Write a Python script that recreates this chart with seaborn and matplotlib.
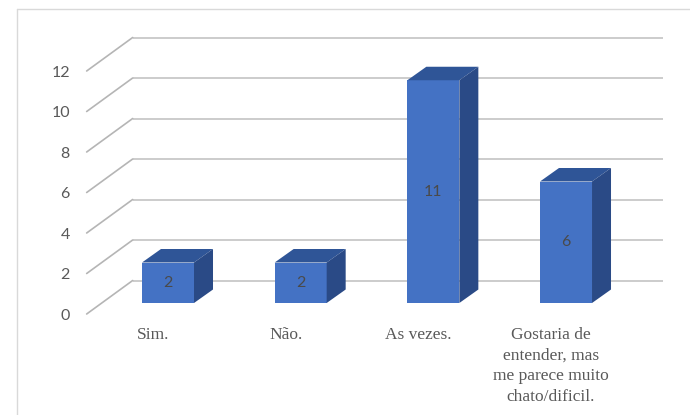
import matplotlib
matplotlib.use("Agg")
import matplotlib.pyplot as plt
from matplotlib.lines import Line2D
import seaborn as sns
import pandas as pd

categories = ["Sim.", "Não.", "As vezes.",
              "Gostaria de\nentender, mas\nme parece muito\nchato/dificil."]
values = [2, 2, 11, 6]
y_ticks = [0, 2, 4, 6, 8, 10, 12]

FRONT = "#4472C4"
TOP = "#2F5597"
SIDE = "#2A4A86"
GRID = "#cccccc"
TXT = "#595959"

sns.set_theme(style="white")
plt.rcParams['font.family'] = ['Lato', 'DejaVu Sans']

fig = plt.figure(figsize=(6.9, 4.15), dpi=100)
ax = fig.add_axes([0, 0, 1, 1])

df = pd.DataFrame({"cat": categories, "val": values})
sns.barplot(data=df, x="cat", y="val", color=FRONT, saturation=1,
            width=0.392, ax=ax, zorder=3, edgecolor="none")

# px -> data scale
PX_X = 132.67
PX_Y = 20.25
ax.set_xlim(-168 / PX_X, (690 - 168) / PX_X)
ax.set_ylim((303 - 415) / PX_Y, 303 / PX_Y)
ax.axis("off")

# depth offsets (data units)
fx, fy = -15 / PX_X, -11 / PX_Y      # front edge of floor
bx, by = 31 / PX_X, 22.5 / PX_Y      # back wall
dx, dy = 19 / PX_X, 13.5 / PX_Y      # bar depth

# back wall gridlines and floor/side diagonals
for v in y_ticks:
    ax.plot([-0.5 + bx, 3.5 + bx], [v + by, v + by], color=GRID, lw=1.4,
            zorder=1, solid_capstyle="butt")
    ax.plot([-0.5 + fx, -0.5 + bx], [v + fy, v + by], color="#b5b5b5", lw=1.2,
            zorder=1)
    ax.text(-0.739, v + fy - 1.5 / PX_Y, str(v), ha="right", va="center",
            fontsize=11.5, color=TXT)

# 3D faces for bars
for p, v in zip(ax.patches, values):
    x0, w, h = p.get_x(), p.get_width(), p.get_height()
    ax.fill([x0, x0 + w, x0 + w + dx, x0 + dx], [h, h, h + dy, h + dy],
            color=TOP, zorder=4, lw=0)
    ax.fill([x0 + w, x0 + w, x0 + w + dx, x0 + w + dx], [0, h, h + dy, dy],
            color=SIDE, zorder=4, lw=0)
    ax.text(x0 + w / 2, h / 2, str(v), ha="center", va="center",
            fontsize=11.5, color="#4a4a4a", zorder=5)

# category labels
for i, c in enumerate(categories):
    ax.text(i + fx, (303 - 327) / PX_Y, c, ha="center", va="top",
            fontsize=12.5, color=TXT, family=["Liberation Serif"],
            linespacing=1.38)

# chart border
fig.add_artist(Line2D([17 / 690, 1], [1 - 9.5 / 415, 1 - 9.5 / 415],
                      transform=fig.transFigure, color="#d9d9d9", lw=1))
fig.add_artist(Line2D([17 / 690, 17 / 690], [0, 1 - 9.5 / 415],
                      transform=fig.transFigure, color="#d9d9d9", lw=1))

fig.savefig("out.png", dpi=100)
